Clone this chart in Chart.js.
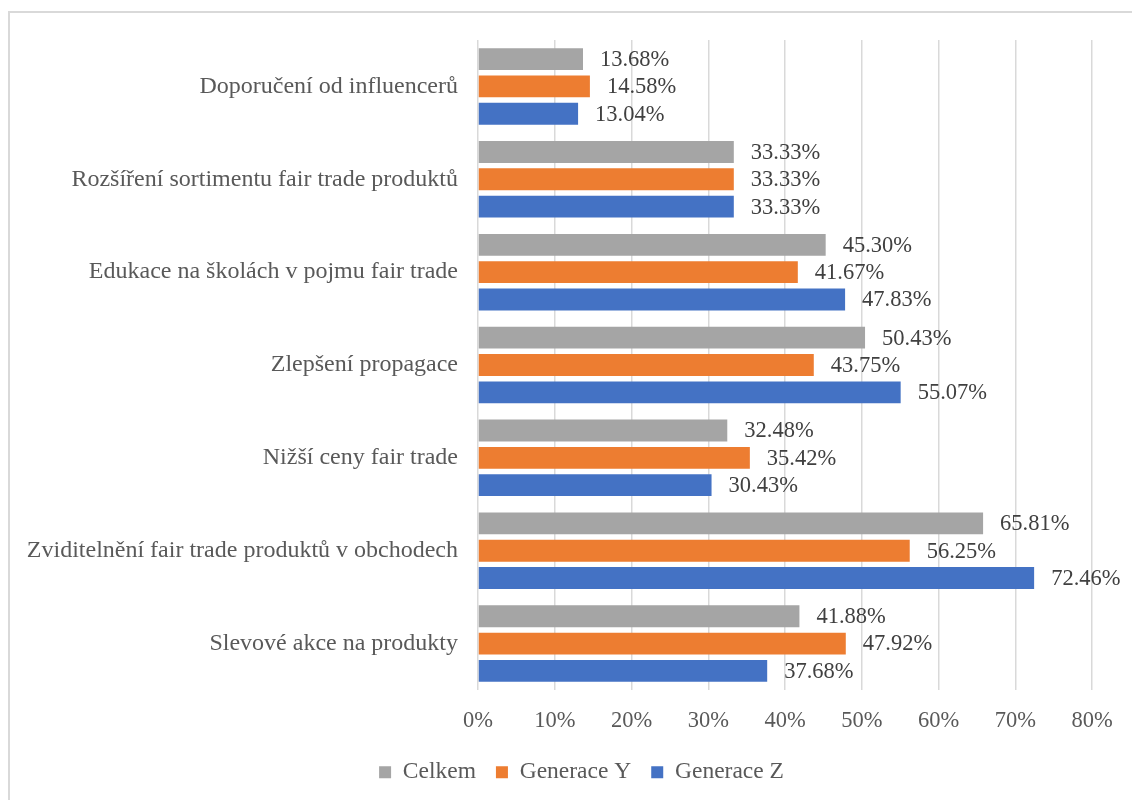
<!DOCTYPE html>
<html>
<head>
<meta charset="utf-8">
<script src="https://cdn.jsdelivr.net/npm/chart.js@4.4.1/dist/chart.umd.min.js"></script>
<style>
  html, body { margin: 0; padding: 0; background: #fff; overflow: hidden; }
  #frame { position: absolute; left: 8px; top: 11px; width: 1200px; height: 900px; border: 2px solid #d9d9d9; box-sizing: border-box; }
  #c { position: absolute; left: 0; top: 0; }
</style>
</head>
<body>
<div id="frame"></div>
<canvas id="c" width="1132" height="800"></canvas>
<script>
const categories = [
  "Doporučení od influencerů",
  "Rozšíření sortimentu fair trade produktů",
  "Edukace na školách v pojmu fair trade",
  "Zlepšení propagace",
  "Nižší ceny fair trade",
  "Zviditelnění fair trade produktů v obchodech",
  "Slevové akce na produkty"
];
const seriesNames = ["Celkem", "Generace Y", "Generace Z"];
const celkem =     [13.68, 33.33, 45.30, 50.43, 32.48, 65.81, 41.88];
const generaceY =  [14.58, 33.33, 41.67, 43.75, 35.42, 56.25, 47.92];
const generaceZ =  [13.04, 33.33, 47.83, 55.07, 30.43, 72.46, 37.68];
const xTicks = [0, 10, 20, 30, 40, 50, 60, 70, 80];

const FONT = "'Liberation Serif', 'Times New Roman', serif";
const PAD_LEFT = 8;

const valueLabels = {
  id: 'valueLabels',
  afterLayout(chart) {
    if (chart.legend) {
      chart.legend.left = 71;
    }
  },
  afterDatasetsDraw(chart) {
    const ctx = chart.ctx;
    ctx.save();
    ctx.font = "22.5px " + FONT;
    ctx.fillStyle = "#404040";
    ctx.textAlign = "left";
    ctx.textBaseline = "middle";
    chart.data.datasets.forEach((ds, di) => {
      const meta = chart.getDatasetMeta(di);
      meta.data.forEach((bar, i) => {
        ctx.fillText(ds.data[i].toFixed(2) + "%", bar.x + 17, bar.y + 1);
      });
    });
    ctx.restore();
  }
};

new Chart(document.getElementById('c'), {
  type: 'bar',
  data: {
    labels: categories,
    datasets: [
      { label: seriesNames[0], data: celkem, backgroundColor: "#A5A5A5" },
      { label: seriesNames[1], data: generaceY, backgroundColor: "#ED7D31" },
      { label: seriesNames[2], data: generaceZ, backgroundColor: "#4472C4" }
    ]
  },
  options: {
    indexAxis: 'y',
    responsive: false,
    animation: false,
    devicePixelRatio: 1,
    categoryPercentage: 0.883,
    barPercentage: 0.8,
    layout: { padding: { top: 40, left: PAD_LEFT, right: 40, bottom: 6 } },
    plugins: {
      legend: {
        position: 'bottom',
        labels: {
          font: { family: FONT, size: 23.5 },
          color: "#595959",
          boxWidth: 12,
          boxHeight: 12,
          padding: 20
        }
      },
      tooltip: { enabled: false }
    },
    scales: {
      x: {
        min: 0,
        max: 80,
        afterBuildTicks(scale) { scale.ticks = xTicks.map(v => ({ value: v })); },
        afterFit(scale) { scale.height = 50.5; },
        ticks: {
          font: { family: FONT, size: 22.5 },
          color: "#595959",
          padding: 18,
          callback: v => v + "%"
        },
        grid: { color: "#d9d9d9", lineWidth: 1.5, drawTicks: false },
        border: { display: false }
      },
      y: {
        afterFit(scale) { scale.width = 478 - PAD_LEFT; },
        ticks: {
          font: { family: FONT, size: 24 },
          color: "#595959",
          padding: 20
        },
        grid: { display: false, drawTicks: false },
        border: { display: false }
      }
    }
  },
  plugins: [valueLabels]
});
</script>
</body>
</html>
